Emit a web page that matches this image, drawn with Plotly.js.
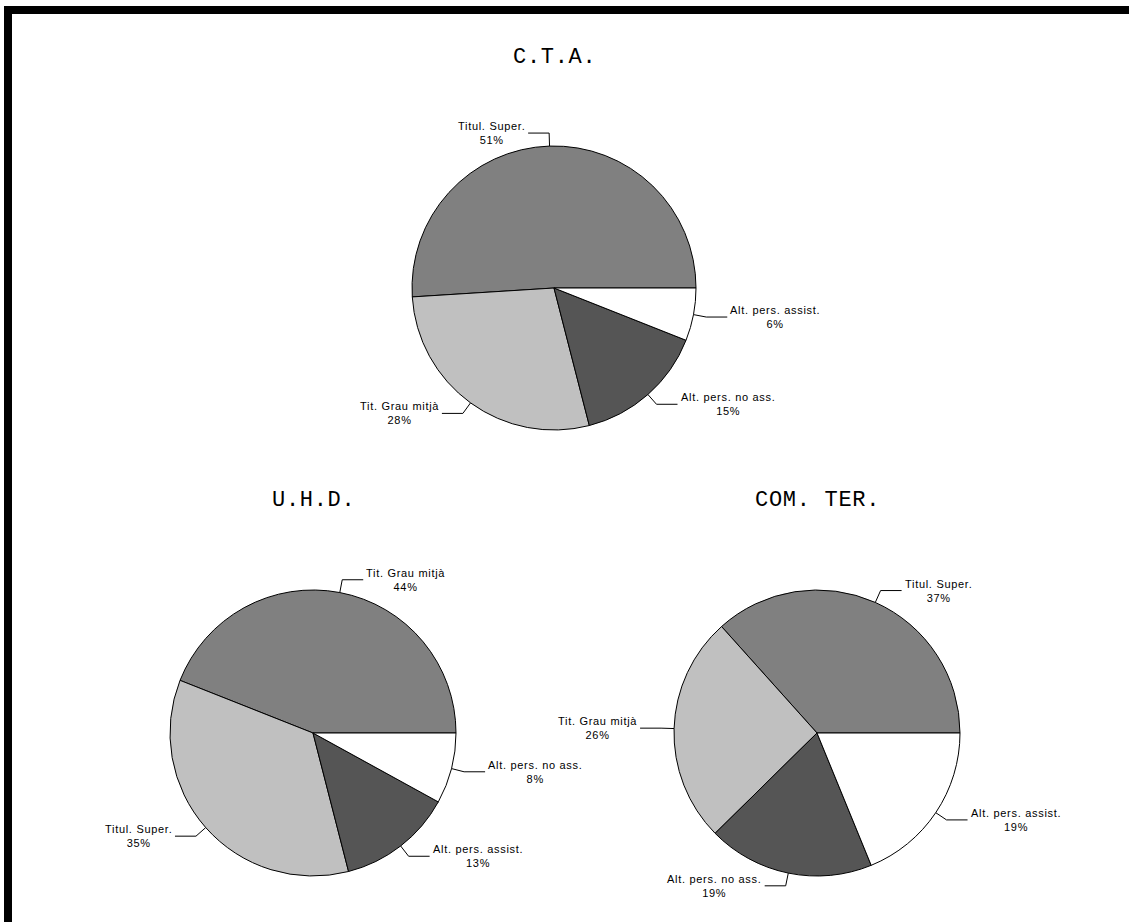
<!DOCTYPE html>
<html>
<head>
<meta charset="utf-8">
<script src="https://cdn.plot.ly/plotly-3.0.1.min.js"></script>
<style>
  html, body { margin: 0; padding: 0; background: #ffffff; }
  #chart { position: absolute; left: 0; top: 0; width: 1129px; height: 922px; }
  #frame { position: absolute; left: 4px; top: 6px; right: 0; bottom: 0;
           border-left: 8px solid #000; border-top: 8px solid #000;
           pointer-events: none; z-index: 10; }
  .annotation-text { letter-spacing: 0.7px; }
</style>
</head>
<body>
<div id="chart"></div>
<div id="frame"></div>
<script>
// ---------------- DATA ----------------
const chartTitles = ['C.T.A.', 'U.H.D.', 'COM. TER.'];

const ctaLabels = ['Titul. Super.', 'Tit. Grau mitjà', 'Alt. pers. no ass.', 'Alt. pers. assist.'];
const ctaValues = [51, 28, 15, 6];

const uhdLabels = ['Tit. Grau mitjà', 'Titul. Super.', 'Alt. pers. assist.', 'Alt. pers. no ass.'];
const uhdValues = [44, 35, 13, 8];

const comLabels = ['Titul. Super.', 'Tit. Grau mitjà', 'Alt. pers. no ass.', 'Alt. pers. assist.'];
const comValues = [37, 26, 19, 19];

// ---------------- LAYOUT / STYLE ----------------
const W = 1129, H = 922;
const sliceColors = ['#808080', '#c0c0c0', '#555555', '#ffffff'];
const pieBoxes = [
  { cx: 554, cy: 288, r: 142, titleY: 58 },
  { cx: 313, cy: 733, r: 143, titleY: 500 },
  { cx: 817, cy: 733, r: 143, titleY: 500 }
];
const series = [
  { labels: ctaLabels, values: ctaValues },
  { labels: uhdLabels, values: uhdValues },
  { labels: comLabels, values: comValues }
];
const labelFont = { family: 'Liberation Sans, Arial, sans-serif', size: 11, color: '#000' };
const titleFont = { family: 'Liberation Mono, DejaVu Sans Mono, monospace', size: 22, color: '#000' };

const px2x = p => p / W;
const py2y = p => 1 - p / H;

const traces = [];
const shapes = [];
const annotations = [];

series.forEach((s, i) => {
  const b = pieBoxes[i];
  const total = s.values.reduce((a, v) => a + v, 0);
  // first slice starts at 3 o'clock and slices run counterclockwise
  const rot = 90 - 360 * s.values[0] / total;
  traces.push({
    type: 'pie',
    labels: s.labels,
    values: s.values,
    sort: false,
    direction: 'counterclockwise',
    rotation: rot,
    textinfo: 'none',
    hoverinfo: 'label+percent',
    showlegend: false,
    marker: { colors: sliceColors, line: { color: '#000', width: 1 } },
    domain: {
      x: [px2x(b.cx - b.r), px2x(b.cx + b.r)],
      y: [py2y(b.cy + b.r), py2y(b.cy - b.r)]
    }
  });

  // title
  annotations.push({
    xref: 'paper', yref: 'paper',
    x: px2x(b.cx), y: py2y(b.titleY),
    xanchor: 'center', yanchor: 'middle',
    text: chartTitles[i], showarrow: false, font: titleFont
  });

  // leader lines + labels, from slice mid-angles
  let cum = 0;
  s.values.forEach((v, k) => {
    const theta = (cum + v / 2) / total * 2 * Math.PI; // ccw from east
    cum += v;
    const ux = Math.cos(theta), uy = -Math.sin(theta);
    const x0 = b.cx + b.r * ux, y0 = b.cy + b.r * uy;
    const x1 = b.cx + (b.r + 13) * ux, y1 = b.cy + (b.r + 13) * uy;
    const dir = ux >= 0 ? 1 : -1;
    const x2 = x1 + dir * 21, y2 = y1;
    shapes.push({
      type: 'path', xref: 'paper', yref: 'paper',
      path: `M ${px2x(x0)},${py2y(y0)} L ${px2x(x1)},${py2y(y1)} L ${px2x(x2)},${py2y(y2)}`,
      line: { color: '#000', width: 1 }
    });
    annotations.push({
      xref: 'paper', yref: 'paper',
      x: px2x(x2 + dir * 1), y: py2y(y2),
      xanchor: dir > 0 ? 'left' : 'right', yanchor: 'middle',
      align: 'center',
      text: `${s.labels[k]}<br>${v}%`,
      showarrow: false, font: labelFont
    });
  });
});

const layout = {
  width: W, height: H,
  margin: { l: 0, r: 0, t: 0, b: 0 },
  paper_bgcolor: '#ffffff',
  plot_bgcolor: '#ffffff',
  showlegend: false,
  shapes: shapes,
  annotations: annotations
};

Plotly.newPlot('chart', traces, layout, { displayModeBar: false, staticPlot: true });
</script>
</body>
</html>
